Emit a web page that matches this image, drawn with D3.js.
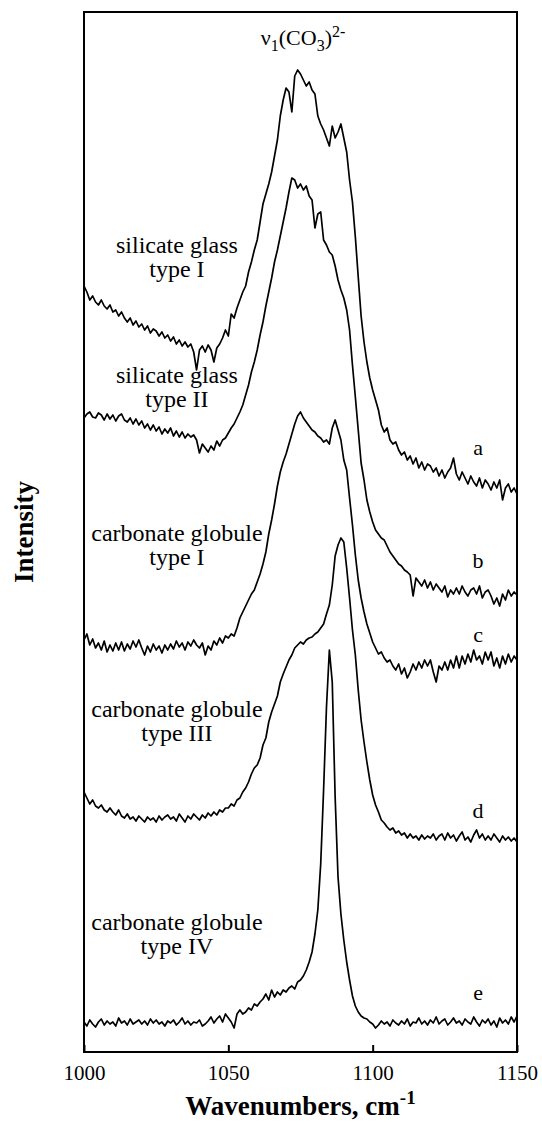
<!DOCTYPE html>
<html>
<head>
<meta charset="utf-8">
<script src="https://cdn.jsdelivr.net/npm/d3@7"></script>
<style>
  body { margin: 0; background: #fff; }
  svg { display: block; font-family: 'Liberation Serif', 'Times New Roman', serif; }
</style>
</head>
<body>
<svg id="raman-plot-svg" width="542" height="1125"></svg>
<script>
// Raman shift grid (cm-1), one point per wavenumber
const wavenumbers = d3.range(1000, 1151);
const xTicks = [1000, 1050, 1100, 1150];

// stacked intensities (a.u.), one value per wavenumber
const spectrumA = [
  766, 760, 752, 756, 750, 747, 752, 746, 743, 747,
  740, 742, 736, 740, 734, 730, 734, 727, 731, 725,
  728, 722, 726, 719, 723, 721, 716, 720, 714, 717,
  711, 715, 708, 712, 706, 710, 705, 708, 700, 682,
  702, 706, 700, 707, 702, 690, 704, 708, 714, 722,
  716, 738, 734, 744, 752, 760, 766, 780, 790, 802,
  812, 830, 848, 858, 868, 880, 896, 912, 936, 952,
  964, 960, 940, 976, 982, 978, 972, 966, 970, 962,
  958, 936, 928, 922, 914, 906, 926, 914, 920, 928,
  914, 900, 872, 850, 815, 775, 736, 710, 690, 674,
  662, 652, 642, 627, 620, 624, 612, 608, 610, 602,
  597, 600, 592, 596, 588, 594, 584, 590, 582, 588,
  586, 580, 584, 576, 582, 574, 580, 584, 594, 578,
  572, 580, 574, 568, 576, 570, 566, 574, 564, 572,
  568, 562, 570, 564, 572, 552, 564, 568, 560, 564, 558
];
const spectrumB = [
  634, 638, 640, 635, 634, 639, 637, 632, 638, 633,
  637, 631, 636, 638, 632, 630, 634, 628, 633, 627,
  631, 624, 628, 622, 627, 621, 625, 618, 623, 619,
  624, 616, 621, 615, 620, 614, 618, 615, 617, 612,
  599, 608, 604, 600, 606, 602, 611, 606, 612, 614,
  619, 624, 628, 634, 640, 647, 657, 667, 680, 690,
  702, 717, 730, 746, 760, 774, 790, 802, 816, 830,
  844, 860, 874, 872, 864, 868, 862, 866, 856, 852,
  824, 838, 840, 812, 807, 800, 797, 786, 772, 762,
  754, 742, 722, 687, 655, 622, 589, 572, 552, 540,
  530, 522, 518, 514, 512, 506, 500, 496, 492, 488,
  486, 482, 480, 477, 456, 474, 470, 466, 472, 464,
  470, 462, 468, 464, 460, 466, 455, 462, 458, 464,
  458, 466, 460, 456, 462, 464, 458, 466, 454, 460,
  462, 456, 448, 454, 446, 458, 452, 462, 456, 460, 457
];
const spectrumC = [
  412, 418, 407, 413, 404, 409, 402, 411, 400, 407,
  401, 409, 402, 410, 401, 408, 403, 411, 405, 412,
  404, 397, 406, 400, 408, 402, 406, 399, 407, 402,
  408, 403, 411, 405, 409, 402, 410, 406, 412, 407,
  404, 409, 397, 406, 402, 411, 407, 414, 409, 416,
  414, 418, 416, 424, 434, 440, 446, 452, 458, 462,
  470, 478, 488, 500, 518, 532, 548, 566, 580, 590,
  598, 608, 618, 628, 636, 640, 634, 630, 626, 622,
  620, 616, 614, 610, 612, 608, 624, 632, 622, 612,
  592, 582, 554, 527, 497, 472, 454, 440, 428, 419,
  410, 404, 398, 400, 394, 390, 392, 386, 382, 388,
  378, 384, 374, 380, 388, 382, 390, 384, 392, 386,
  392, 380, 370, 386, 382, 390, 382, 392, 384, 396,
  384, 396, 388, 398, 390, 402, 392, 396, 388, 400,
  392, 400, 386, 394, 384, 396, 388, 398, 390, 396, 392
];
const spectrumD = [
  260, 254, 248, 252, 246, 244, 247, 242, 240, 244,
  240, 237, 242, 236, 234, 238, 233, 235, 231, 236,
  233, 230, 235, 232, 234, 230, 236, 232, 235, 237,
  233, 235, 231, 238, 234, 230, 236, 233, 238, 235,
  232, 237, 234, 239, 236, 240, 237, 242, 240, 244,
  244, 248, 246, 252, 254, 260, 264, 270, 278, 284,
  287, 294, 307, 314, 330, 340, 348, 356, 370, 378,
  385, 392, 397, 404, 407, 410, 408, 412, 414, 415,
  418, 420, 424, 428, 438, 447, 467, 496, 507, 514,
  510, 484, 454, 422, 397, 362, 332, 310, 290, 272,
  257, 247, 240, 232, 229, 225, 222, 224, 219, 221,
  217, 219, 214, 218, 214, 216, 212, 217, 213, 216,
  214, 218, 212, 216, 218, 212, 219, 214, 217, 211,
  216, 220, 212, 215, 210, 217, 222, 214, 218, 212,
  216, 212, 218, 214, 210, 216, 212, 215, 211, 214, 210
];
const spectrumE = [
  30, 26, 32, 28, 25, 30, 33, 27, 31, 28,
  30, 26, 34, 29, 31, 27, 33, 28, 30, 32,
  28, 31, 27, 33, 29, 32, 28, 30, 26, 31,
  29, 32, 27, 30, 34, 28, 31, 27, 30, 29,
  32, 26, 28, 31, 35, 29, 33, 36, 30, 38,
  34, 30, 24, 38, 42, 38, 40, 44, 42, 48,
  46, 50, 53, 58, 52, 62, 55, 60, 57, 62,
  60, 64, 66, 63, 70, 72, 76, 82, 90, 100,
  118, 142, 188, 262, 345, 402, 370, 255, 175, 138,
  112, 90, 72, 56, 46, 40, 36, 34, 33, 30,
  28, 24, 27, 31, 28, 30, 26, 32, 29, 27,
  31, 28, 33, 26, 30, 29, 34, 28, 31, 27,
  32, 29, 35, 28, 31, 33, 27, 30, 34, 29,
  31, 27, 33, 30, 28, 35, 30, 26, 32, 29,
  33, 27, 31, 25, 34, 29, 32, 28, 35, 30, 36
];

const spectra = [spectrumA, spectrumB, spectrumC, spectrumD, spectrumE];
const curveLetters = ['a', 'b', 'c', 'd', 'e'];
const sampleNames = [
  ['silicate glass', 'type I'],
  ['silicate glass', 'type II'],
  ['carbonate globule', 'type I'],
  ['carbonate globule', 'type III'],
  ['carbonate globule', 'type IV']
];

(function() {

  let svg = d3.select('#raman-plot-svg');

  let margin = { top: 12, right: 25, bottom: 73, left: 84 };
  let plotWidth = 542 - margin.left - margin.right,
      plotHeight = 1125 - margin.top - margin.bottom;

  let xScale = d3.scaleLinear()
    .domain([1000, 1150])
    .range([0, plotWidth]);
  let yScale = d3.scaleLinear()
    .domain([0, 1040])
    .range([plotHeight, 0]);

  let mainGroup = svg.append('g')
    .attr('transform', `translate(${margin.left}, ${margin.top})`);

  let line = d3.line()
    .x((d) => xScale(d.wn))
    .y((d) => yScale(d.value));

  spectra.forEach((values) => {
    let data = d3.zip(wavenumbers, values).map((el) => ({ wn: el[0], value: el[1] }));
    mainGroup.append('path')
      .datum(data)
      .attr('fill', 'none')
      .attr('stroke', '#000')
      .attr('stroke-width', 1.7)
      .attr('stroke-linejoin', 'round')
      .attr('d', line);
  });

  // x axis, ticks pointing into the plot
  let xAxis = mainGroup.append('g')
    .attr('transform', `translate(0, ${plotHeight})`)
    .call(d3.axisBottom(xScale).tickValues(xTicks).tickFormat(d3.format('d'))
      .tickSizeInner(-7).tickSizeOuter(0).tickPadding(13));
  xAxis.select('.domain').remove();
  xAxis.selectAll('.tick line').attr('stroke', '#000').attr('stroke-width', 2);
  xAxis.selectAll('.tick text')
    .attr('fill', '#000')
    .attr('font-family', "'Liberation Serif', serif")
    .attr('font-size', '21px');

  // frame
  mainGroup.append('rect')
    .attr('width', plotWidth)
    .attr('height', plotHeight)
    .attr('fill', 'none')
    .attr('stroke', '#000')
    .attr('stroke-width', 2);

  // band label
  let title = mainGroup.append('text')
    .attr('x', xScale(1075.9))
    .attr('y', yScale(1007))
    .attr('text-anchor', 'middle')
    .attr('font-size', '22px');
  title.append('tspan').text('ν');
  title.append('tspan').attr('dy', 6).attr('font-size', '16px').text('1');
  title.append('tspan').attr('dy', -6).text('(CO');
  title.append('tspan').attr('dy', 6).attr('font-size', '16px').text('3');
  title.append('tspan').attr('dy', -6).text(')');
  title.append('tspan').attr('dy', -8).attr('font-size', '16px').text('2-');

  // sample names to the left of each spectrum
  let nameAnchors = [799, 669, 511, 335, 122];
  sampleNames.forEach((lines, i) => {
    let t = mainGroup.append('text')
      .attr('text-anchor', 'middle')
      .attr('font-size', '24px');
    lines.forEach((s, j) => {
      t.append('tspan')
        .attr('x', xScale(1032.2))
        .attr('y', yScale(nameAnchors[i]) + j * 23.5)
        .text(s);
    });
  });

  // curve letters on the right
  let letterAnchors = [597, 484, 410, 234, 52];
  curveLetters.forEach((c, i) => {
    mainGroup.append('text')
      .attr('x', xScale(1136.5))
      .attr('y', yScale(letterAnchors[i]))
      .attr('text-anchor', 'middle')
      .attr('font-size', '22px')
      .text(c);
  });

  // axis titles
  let xTitle = svg.append('text')
    .attr('x', margin.left + plotWidth / 2)
    .attr('y', 1115)
    .attr('text-anchor', 'middle')
    .attr('font-weight', 'bold')
    .attr('font-size', '27px')
    .text('Wavenumbers, cm');
  xTitle.append('tspan')
    .attr('dy', -11)
    .attr('font-size', '19px')
    .text('-1');

  svg.append('text')
    .attr('transform', `translate(33, ${margin.top + plotHeight / 2}) rotate(-90)`)
    .attr('text-anchor', 'middle')
    .attr('font-weight', 'bold')
    .attr('font-size', '27px')
    .text('Intensity');

})();
</script>
</body>
</html>
